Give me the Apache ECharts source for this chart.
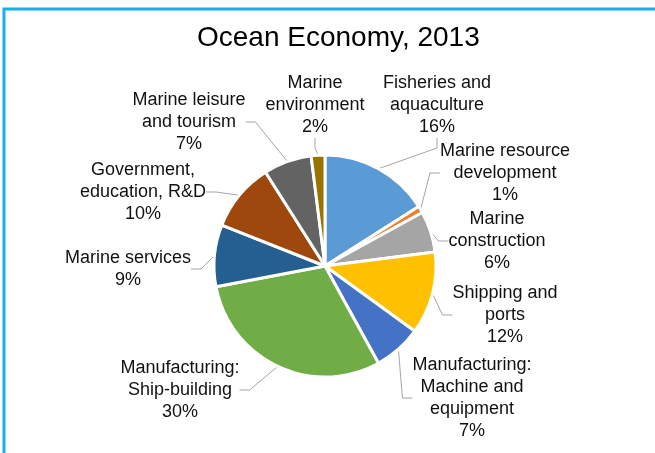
<!DOCTYPE html>
<html><head><meta charset="utf-8">
<script src="https://cdn.jsdelivr.net/npm/echarts@6/dist/echarts.min.js"></script>
<style>html,body{margin:0;padding:0;background:#fff;}#c{width:655px;height:453px;}</style>
</head><body><div id="c"></div>
<script>
const categories = [
  "Fisheries and\naquaculture",
  "Marine resource\ndevelopment",
  "Marine\nconstruction",
  "Shipping and\nports",
  "Manufacturing:\nMachine and\nequipment",
  "Manufacturing:\nShip-building",
  "Marine services",
  "Government,\neducation, R&D",
  "Marine leisure\nand tourism",
  "Marine\nenvironment"
];
const values = [16, 1, 6, 12, 7, 30, 9, 10, 7, 2];
const colors = ["#5B9BD5","#ED7D31","#A5A5A5","#FFC000","#4472C4","#70AD47","#255E91","#9E480E","#636363","#997300"];
// label centre positions (layout only)
const labelPos = [
  [437,105],[505,173],[497,241],[505,315],[472,398],
  [180,390],[128,269],[143,192],[189,122],[315,105]
];

const chart = echarts.init(document.getElementById('c'), null, {renderer:'canvas'});
chart.setOption({
  animation:false,
  backgroundColor:'#fff',
  title:{text:'Ocean Economy, 2013', left:192, top:19,
    textStyle:{fontFamily:'Liberation Sans, Arial', fontSize:28, fontWeight:'normal', color:'#000'}},
  graphic:[
    {type:'polyline', shape:{points:[[4,453],[4,9],[655,9]]}, style:{stroke:'#1AAFEA', lineWidth:3, fill:null}}
  ],
  series:[{
    type:'pie',
    center:[325,266],
    radius:[0,111],
    startAngle:90,
    clockwise:true,
    data: values.map((v,i)=>({name:categories[i], value:v, itemStyle:{color:colors[i]}})),
    itemStyle:{borderColor:'#fff', borderWidth:3},
    label:{show:true, position:'outside', formatter:p=>p.name+'\n'+p.value+'%',
      fontFamily:'Liberation Sans, Arial', fontSize:18, lineHeight:22, color:'#111', align:'center'},
    labelLine:{show:true, length:10, length2:10, lineStyle:{color:'#A6A6A6', width:1}},
    labelLayout: function(p){
      const pos = labelPos[p.dataIndex];
      return {x:pos[0], y:pos[1], align:'center', verticalAlign:'middle'};
    }
  }]
});
</script></body></html>
